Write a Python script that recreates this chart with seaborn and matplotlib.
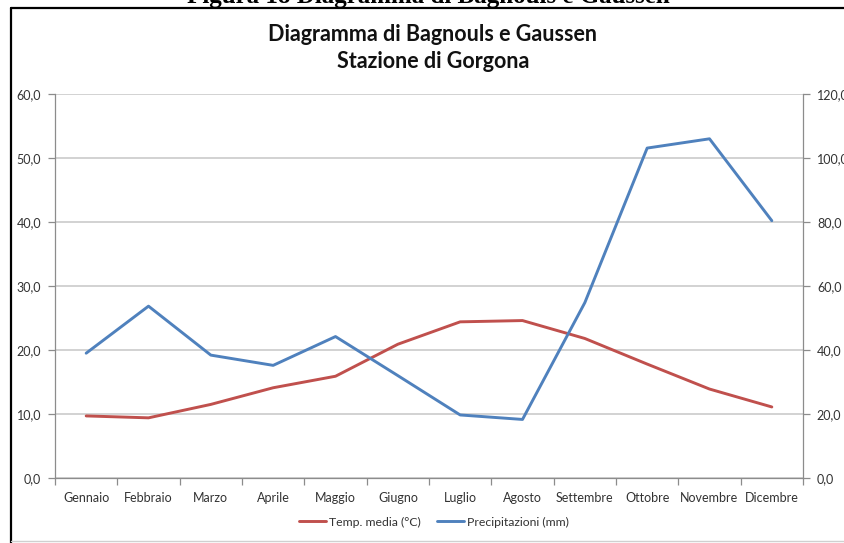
import matplotlib
matplotlib.use("Agg")
import matplotlib.pyplot as plt
import seaborn as sns
import pandas as pd
import numpy as np
from matplotlib.lines import Line2D
from matplotlib.ticker import FuncFormatter

# ---- data ----
months = ["Gennaio", "Febbraio", "Marzo", "Aprile", "Maggio", "Giugno",
          "Luglio", "Agosto", "Settembre", "Ottobre", "Novembre", "Dicembre"]
temp = [9.7, 9.4, 11.5, 14.1, 15.9, 20.9, 24.4, 24.6, 21.8, 17.8, 13.9, 11.1]
prec = [39.0, 53.7, 38.4, 35.2, 44.2, 32.0, 19.7, 18.3, 54.8, 103.1, 106.0, 80.4]
left_ticks = [0, 10, 20, 30, 40, 50, 60]
right_ticks = [0, 20, 40, 60, 80, 100, 120]
title_lines = ["Diagramma di Bagnouls e Gaussen", "Stazione di Gorgona"]
caption = "Figura 18 Diagramma di Bagnouls e Gaussen"
temp_label = "Temp. media (°C)"
prec_label = "Precipitazioni (mm)"

RED = "#C0504D"
BLUE = "#4F81BD"
GRID = "#C6C6C6"
SPINE = "#8C8C8C"
TXT = "#333333"

sns.set_theme(style="white")
plt.rcParams["font.family"] = ["Lato", "DejaVu Sans"]

df = pd.DataFrame({"Mese": months, "Temp": temp, "Prec": prec})

W, H = 845, 543
fig = plt.figure(figsize=(W / 100, H / 100), dpi=100)
ax = fig.add_axes([55 / W, (H - 478) / H, (803 - 55) / W, (478 - 94) / H])
ax2 = ax.twinx()

sns.lineplot(data=df, x="Mese", y="Temp", ax=ax, color=RED, lw=2.1, sort=False)
sns.lineplot(data=df, x="Mese", y="Prec", ax=ax2, color=BLUE, lw=2.1, sort=False)

fmt = FuncFormatter(lambda v, p: f"{v:.1f}".replace(".", ","))

ax.set_xlim(-0.5, len(months) - 0.5)
ax.set_ylim(0, 60)
ax2.set_ylim(0, 120)
ax.set_yticks(left_ticks)
ax2.set_yticks(right_ticks)
ax.yaxis.set_major_formatter(fmt)
ax2.yaxis.set_major_formatter(fmt)
ax.set_xticks(range(len(months)))
ax.set_xticklabels(months)
ax.set_xticks(np.arange(-0.5, len(months), 1.0), minor=True)

ax.set_xlabel("")
ax.set_ylabel("")
ax2.set_ylabel("")

ax.yaxis.grid(True, color=GRID, lw=1.1)
ax.xaxis.grid(False)
ax.set_axisbelow(True)

for a in (ax, ax2):
    a.spines["top"].set_visible(False)
    for s in ("left", "right", "bottom"):
        a.spines[s].set_color(SPINE)
        a.spines[s].set_linewidth(0.9)
ax.spines["right"].set_visible(False)
ax2.spines["left"].set_visible(False)
ax2.spines["bottom"].set_visible(False)

ax.tick_params(axis="y", direction="out", length=5, width=0.9, color=SPINE,
               labelsize=9, labelcolor=TXT, pad=5, left=True)
ax2.tick_params(axis="y", direction="out", length=5, width=0.9, color=SPINE,
                labelsize=9, labelcolor=TXT, pad=5, right=True)
ax.tick_params(axis="x", which="major", length=0, labelsize=9, labelcolor=TXT, pad=10)
ax.tick_params(axis="x", which="minor", direction="out", length=5, width=0.9,
               color=SPINE, bottom=True)

# title
fig.text(433 / W, 1 - 35 / H, title_lines[0], ha="center", va="center",
         fontsize=15.5, fontweight="bold", color="#111111")
fig.text(433 / W, 1 - 62 / H, title_lines[1], ha="center", va="center",
         fontsize=15.5, fontweight="bold", color="#111111")

# cut-off document caption at top
fig.text(428 / W, 1 - 3 / H, caption, ha="center", va="baseline",
         fontsize=18, fontweight="bold", family=["Liberation Serif", "DejaVu Serif"],
         color="black")

# legend
handles = [Line2D([], [], color=RED, lw=2.1, label=temp_label),
           Line2D([], [], color=BLUE, lw=2.1, label=prec_label)]
leg = fig.legend(handles=handles, loc="center", bbox_to_anchor=(434 / W, 1 - 522 / H),
                 ncol=2, frameon=False, fontsize=8.8, handlelength=2.2,
                 handletextpad=0.3, columnspacing=1.3)
for t in leg.get_texts():
    t.set_color(TXT)

# chart border
fig.add_artist(Line2D([11 / W, 11 / W], [0, 1 - 8 / H], transform=fig.transFigure,
                      color="black", lw=1.6))
fig.add_artist(Line2D([11 / W, 1.0], [1 - 8 / H, 1 - 8 / H], transform=fig.transFigure,
                      color="black", lw=1.6))
fig.add_artist(Line2D([11 / W, 1.0], [1 - 541 / H, 1 - 541 / H], transform=fig.transFigure,
                      color="#D0D0D0", lw=1.0))

fig.savefig("out.png", dpi=100)
